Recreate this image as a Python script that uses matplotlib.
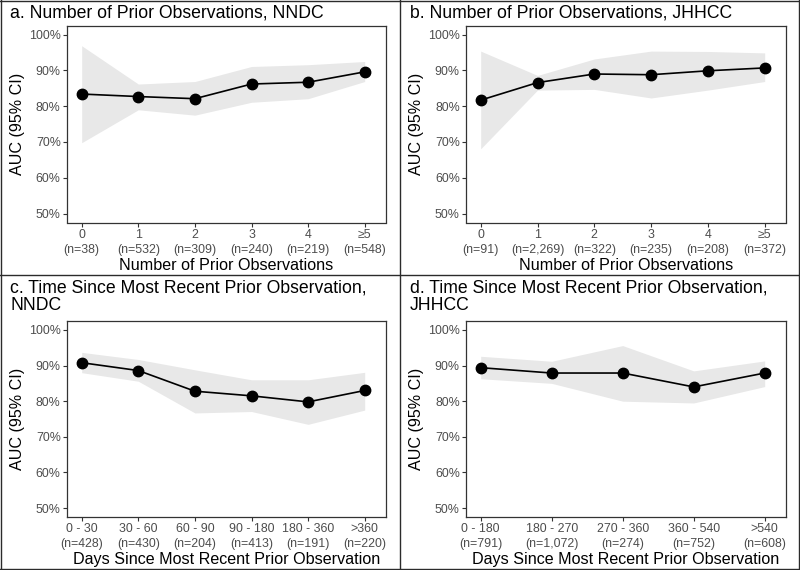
import matplotlib
matplotlib.use("Agg")
import matplotlib.pyplot as plt
from matplotlib.lines import Line2D
from matplotlib.ticker import FuncFormatter

plt.rcParams['font.family'] = ['Liberation Sans', 'DejaVu Sans']

# ---------------- data ----------------
titles = [
    "a. Number of Prior Observations, NNDC",
    "b. Number of Prior Observations, JHHCC",
    "c. Time Since Most Recent Prior Observation,\nNNDC",
    "d. Time Since Most Recent Prior Observation,\nJHHCC",
]
xlabels = [
    "Number of Prior Observations",
    "Number of Prior Observations",
    "Days Since Most Recent Prior Observation",
    "Days Since Most Recent Prior Observation",
]

cats_a = ["0", "1", "2", "3", "4", "\u22655"]
n_a = ["38", "532", "309", "240", "219", "548"]
auc_a = [83.4, 82.7, 82.1, 86.2, 86.7, 89.6]
lo_a = [69.8, 79.0, 77.5, 81.1, 82.1, 86.9]
hi_a = [96.9, 86.2, 86.9, 91.1, 91.6, 92.5]

cats_b = ["0", "1", "2", "3", "4", "\u22655"]
n_b = ["91", "2,269", "322", "235", "208", "372"]
auc_b = [81.7, 86.6, 89.0, 88.8, 89.9, 90.7]
lo_b = [68.1, 84.5, 84.7, 82.3, 84.5, 86.9]
hi_b = [95.4, 88.6, 93.2, 95.4, 95.3, 94.9]

cats_c = ["0 - 30", "30 - 60", "60 - 90", "90 - 180", "180 - 360", ">360"]
n_c = ["428", "430", "204", "413", "191", "220"]
auc_c = [90.8, 88.6, 82.8, 81.5, 79.8, 83.0]
lo_c = [88.0, 85.6, 76.7, 77.1, 73.5, 77.5]
hi_c = [93.7, 91.7, 88.8, 86.0, 86.0, 88.1]

cats_d = ["0 - 180", "180 - 270", "270 - 360", "360 - 540", ">540"]
n_d = ["791", "1,072", "274", "752", "608"]
auc_d = [89.4, 87.9, 87.9, 84.0, 87.9]
lo_d = [86.3, 85.0, 80.0, 79.5, 84.1]
hi_d = [92.6, 91.2, 95.6, 88.5, 91.3]

yticks = [50, 60, 70, 80, 90, 100]

panels = [
    (cats_a, n_a, auc_a, lo_a, hi_a),
    (cats_b, n_b, auc_b, lo_b, hi_b),
    (cats_c, n_c, auc_c, lo_c, hi_c),
    (cats_d, n_d, auc_d, lo_d, hi_d),
]

# ---------------- layout ----------------
W, H = 800, 570
fig = plt.figure(figsize=(W / 100, H / 100), dpi=100)

# axes boxes in pixels: (left, top, right, bottom)
boxes = [
    (67, 25.7, 385.7, 222.5),
    (466, 25.7, 785.7, 222.5),
    (67, 321, 385.7, 517),
    (466, 321, 785.7, 517),
]
# baseline of the last title line, in pixels
title_pos = [(10, 17.3), (410, 17.3), (10, 310), (410, 310)]

dark = "#333333"
tickcol = "#4D4D4D"

for i, (cats, ns, auc, lo, hi) in enumerate(panels):
    l, t, r, b = boxes[i]
    ax = fig.add_axes([l / W, 1 - b / H, (r - l) / W, (b - t) / H])
    x = list(range(len(cats)))
    ax.fill_between(x, lo, hi, color="#E8E8E8", linewidth=0, zorder=1)
    ax.plot(x, auc, color="black", linewidth=1.2, zorder=2)
    ax.plot(x, auc, linestyle="none", marker="o", markersize=7.5,
            color="black", zorder=3)
    span = (r - l) - 14.7 - 21.0
    pad_l = 14.7 / span * (len(cats) - 1)
    pad_r = 21.0 / span * (len(cats) - 1)
    ax.set_xlim(-pad_l, len(cats) - 1 + pad_r)
    ax.set_ylim(47.5, 102.5)
    ax.set_yticks(yticks)
    ax.yaxis.set_major_formatter(FuncFormatter(lambda v, p: f"{v:.0f}%"))
    ax.set_xticks(x)
    ax.set_xticklabels([f"{c}\n(n={n})" for c, n in zip(cats, ns)],
                       linespacing=1.35)
    for s in ax.spines.values():
        s.set_color(dark)
        s.set_linewidth(0.9)
    ax.tick_params(axis="both", length=3, width=0.8, color=dark,
                   labelcolor=tickcol, labelsize=8.9, pad=1.5)
    ax.set_ylabel("AUC (95% CI)", fontsize=11.6, color="black", labelpad=3)
    ax.set_xlabel(xlabels[i], fontsize=11.6, color="black", labelpad=1.5)
    tx, ty = title_pos[i]
    fig.text(tx / W, 1 - ty / H, titles[i], fontsize=12.7, color="black",
             ha="left", va="baseline", linespacing=1.05)

# panel borders
border = dict(color="#2b2b2b", linewidth=1.0, transform=fig.transFigure)
fig.add_artist(Line2D([0.5, 0.5], [0, 1], **border))
fig.add_artist(Line2D([0, 1], [1 - 274.5 / H, 1 - 274.5 / H], **border))
fig.add_artist(Line2D([0.0012, 0.0012], [0, 1], **border))
fig.add_artist(Line2D([0.9988, 0.9988], [0, 1], **border))
fig.add_artist(Line2D([0, 1], [0.0015, 0.0015], **border))
fig.add_artist(Line2D([0, 1], [0.9985, 0.9985], **border))

fig.savefig("out.png", dpi=100)
